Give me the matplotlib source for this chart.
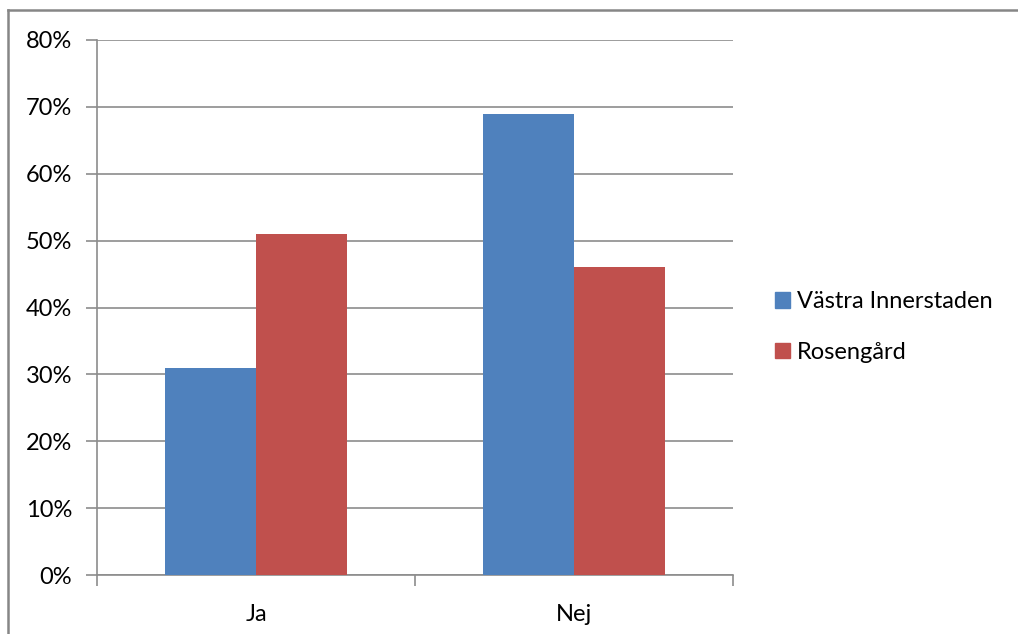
import matplotlib.pyplot as plt
from matplotlib.lines import Line2D
from matplotlib.patches import Patch
from matplotlib.ticker import FuncFormatter

# data
categories = ['Ja', 'Nej']
series_names = ['Västra Innerstaden', 'Rosengård']
vastra = [31, 69]
rosengard = [51, 46]
colors = ['#4F81BD', '#C0504D']

plt.rcParams['font.family'] = ['Lato', 'DejaVu Sans']

fig = plt.figure(figsize=(10.18, 6.34), dpi=100)
ax = fig.add_axes([97 / 1018, 59 / 634, 636 / 1018, 535 / 634])

w = 0.287
x = list(range(len(categories)))
ax.bar([i - w / 2 for i in x], vastra, width=w, color=colors[0], zorder=3)
ax.bar([i + w / 2 for i in x], rosengard, width=w, color=colors[1], zorder=3)

ax.set_xlim(-0.5, 1.5)
ax.set_ylim(0, 80)
ax.set_yticks(range(0, 81, 10))
ax.yaxis.set_major_formatter(FuncFormatter(lambda v, p: f'{v:.0f}%'))
ax.grid(axis='y', color='#8c8c8c', linewidth=1.2, zorder=0)

# category boundaries as ticks, labels centred
ax.set_xticks([-0.5, 0.5, 1.5])
ax.set_xticklabels([])
ax.set_xticks(x, minor=True)
ax.set_xticklabels(categories, minor=True)
ax.tick_params(axis='x', which='minor', length=0, pad=21, labelsize=17)
ax.tick_params(axis='x', which='major', length=8, color='#8c8c8c', width=1.2)
ax.tick_params(axis='y', length=8, color='#8c8c8c', width=1.2, pad=10, labelsize=17)

for s in ['top', 'right']:
    ax.spines[s].set_visible(False)
for s in ['left', 'bottom']:
    ax.spines[s].set_color('#8c8c8c')
    ax.spines[s].set_linewidth(1.2)

handles = [Patch(color=c) for c in colors]
fig.legend(handles, series_names, loc='center left', bbox_to_anchor=(754 / 1018, 1 - 327 / 634),
           frameon=False, fontsize=17, handlelength=0.63, handleheight=0.63,
           handletextpad=0.3, labelspacing=1.25)

# outer chart border (only top and left visible)
fig.add_artist(Line2D([8 / 1018, 1], [1 - 10 / 634, 1 - 10 / 634], color='#868686', linewidth=1.8))
fig.add_artist(Line2D([8 / 1018, 8 / 1018], [0, 1 - 10 / 634], color='#868686', linewidth=1.8))

fig.savefig('out.png', dpi=100)
